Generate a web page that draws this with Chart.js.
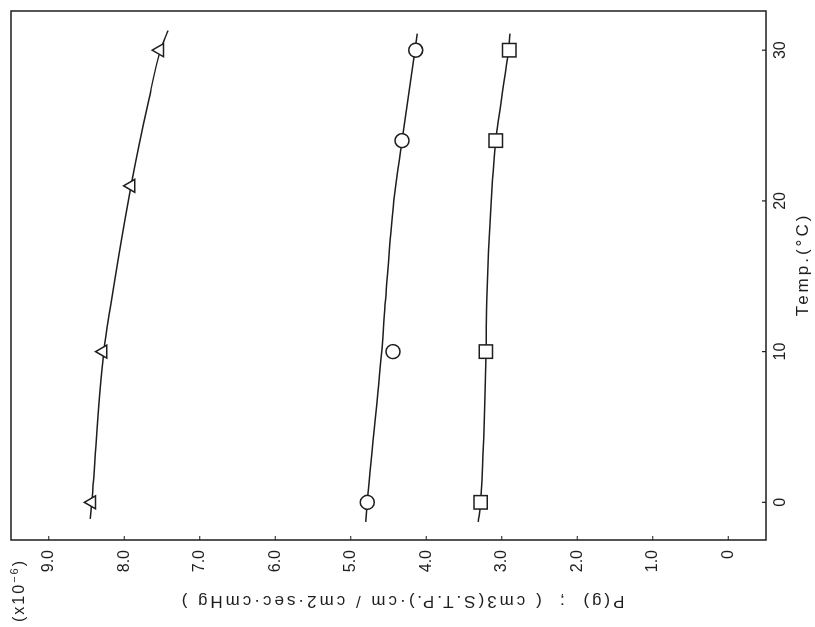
<!DOCTYPE html>
<html>
<head>
<meta charset="utf-8">
<script src="https://cdn.jsdelivr.net/npm/chart.js@4"></script>
<style>
html, body { margin:0; padding:0; background:#fff; overflow:hidden; }
/* the figure is printed turned a quarter turn, so the chart is drawn upright and the box rotated */
#wrap { position:absolute; left:0; top:0; width:627px; height:815px; transform-origin:0 0; transform:translate(0,627px) rotate(-90deg); }
</style>
</head>
<body>
<div id="wrap"><canvas id="chart"></canvas></div>
<script>
// measured points: temperature (degC) vs P(g) (x10^-6)
const triTemp = [0, 10, 21, 30];
const triP = [8.43, 8.28, 7.91, 7.53];
const circTemp = [0, 10, 24, 30];
const circP = [4.78, 4.44, 4.32, 4.14];
const sqTemp = [0, 10, 24, 30];
const sqP = [3.28, 3.21, 3.08, 2.90];

// fitted curves
const triCurveT = [-1.1, 0, 10, 13.4, 21, 26.6, 30, 31.3];
const triCurveP = [8.45, 8.43, 8.27, 8.17, 7.91, 7.68, 7.52, 7.42];
const circCurveT = [-1.3, 0, 10, 13.4, 20, 24, 30, 31.1];
const circCurveP = [4.80, 4.78, 4.59, 4.54, 4.43, 4.32, 4.15, 4.12];
const sqCurveT = [-1.3, 0, 10, 13.4, 20, 24, 30, 31.1];
const sqCurveP = [3.31, 3.28, 3.21, 3.20, 3.14, 3.08, 2.91, 2.89];

const tempTicks = [0, 10, 20, 30];
const pTicks = [0, 1, 2, 3, 4, 5, 6, 7, 8, 9];

const ink = '#1e1e1e';
const fam = "'Liberation Sans', Arial, sans-serif";

function pts(xs, ys) { return xs.map((x, i) => ({ x: x, y: ys[i] })); }

function curve(xs, ys) {
    return { data: pts(xs, ys), showLine: true, pointRadius: 0, borderColor: ink, borderWidth: 1.5,
             cubicInterpolationMode: 'monotone', order: 2 };
}
function marks(xs, ys, style, r) {
    return { data: pts(xs, ys), showLine: false, pointStyle: style, pointRadius: r,
             backgroundColor: '#fff', borderColor: ink, borderWidth: 1.5, order: 1 };
}

// box, inward ticks and the hand placed titles
const frame = {
    id: 'frame',
    afterDraw(chart) {
        const ctx = chart.ctx, a = chart.chartArea, sx = chart.scales.x, sy = chart.scales.y;
        ctx.save();
        ctx.strokeStyle = ink;
        ctx.lineWidth = 1.5;
        ctx.strokeRect(a.left, a.top, a.right - a.left, a.bottom - a.top);
        ctx.lineWidth = 1.2;
        ctx.beginPath();
        tempTicks.forEach(v => { const x = sx.getPixelForValue(v); ctx.moveTo(x, a.bottom); ctx.lineTo(x, a.bottom - 4); });
        pTicks.forEach(v => { const y = sy.getPixelForValue(v); ctx.moveTo(a.left, y); ctx.lineTo(a.left + 4, y); });
        ctx.stroke();

        ctx.fillStyle = ink;
        ctx.font = '17px ' + fam;
        ctx.letterSpacing = '3px';
        ctx.textAlign = 'center';
        ctx.textBaseline = 'middle';
        ctx.fillText('Temp.(°C)', (a.left + a.right) / 2 + 11, a.bottom + 37);

        ctx.save();
        ctx.translate(a.left - 61, (a.top + a.bottom) / 2 + 13);
        ctx.rotate(-Math.PI / 2);
        ctx.fillText('P(g)  ;  ( cm3(S.T.P.)·cm / cm2·sec·cmHg )', 0, 0);
        ctx.restore();

        // (x10^-6)
        ctx.letterSpacing = '2px';
        ctx.textAlign = 'left';
        let x0 = a.left - 82;
        const y0 = a.top + 9;
        ctx.font = '16px ' + fam;
        ctx.fillText('(x10', x0, y0);
        x0 += ctx.measureText('(x10').width;
        ctx.font = '11px ' + fam;
        ctx.fillText('−6', x0, y0 - 5);
        x0 += ctx.measureText('−6').width;
        ctx.font = '16px ' + fam;
        ctx.fillText(')', x0, y0);
        ctx.restore();
    }
};

const ctx = document.getElementById('chart').getContext('2d');
const chart = new Chart(ctx, {
    type: 'scatter',
    data: {
        datasets: [
            curve(triCurveT, triCurveP),
            curve(circCurveT, circCurveP),
            curve(sqCurveT, sqCurveP),
            marks(triTemp, triP, 'triangle', 7.5),
            marks(circTemp, circP, 'circle', 7),
            marks(sqTemp, sqP, 'rect', 9.5),
        ]
    },
    options: {
        responsive: true,
        maintainAspectRatio: false,
        animation: false,
        layout: { padding: { top: 10, right: 10, left: 0, bottom: 0 } },
        plugins: { legend: { display: false }, tooltip: { enabled: false } },
        scales: {
            x: {
                type: 'linear', position: 'bottom', min: -2.5, max: 32.6,
                afterBuildTicks: s => { s.ticks = tempTicks.map(v => ({ value: v })); },
                afterFit: s => { s.height = 49; s.paddingLeft = 0; s.paddingRight = 0; },
                grid: { display: false, drawTicks: false },
                border: { display: false },
                ticks: { color: ink, padding: 5, maxRotation: 0, font: { family: fam, size: 16 } }
            },
            y: {
                type: 'linear', position: 'left', min: -0.5, max: 9.5,
                afterBuildTicks: s => { s.ticks = pTicks.map(v => ({ value: v })); },
                afterFit: s => { s.width = 87; s.paddingTop = 0; s.paddingBottom = 0; },
                grid: { display: false, drawTicks: false },
                border: { display: false },
                ticks: { color: ink, padding: 10, font: { family: fam, size: 16 },
                         callback: v => v === 0 ? '0' : v.toFixed(1) }
            }
        }
    },
    plugins: [frame]
});
</script>
</body>
</html>
